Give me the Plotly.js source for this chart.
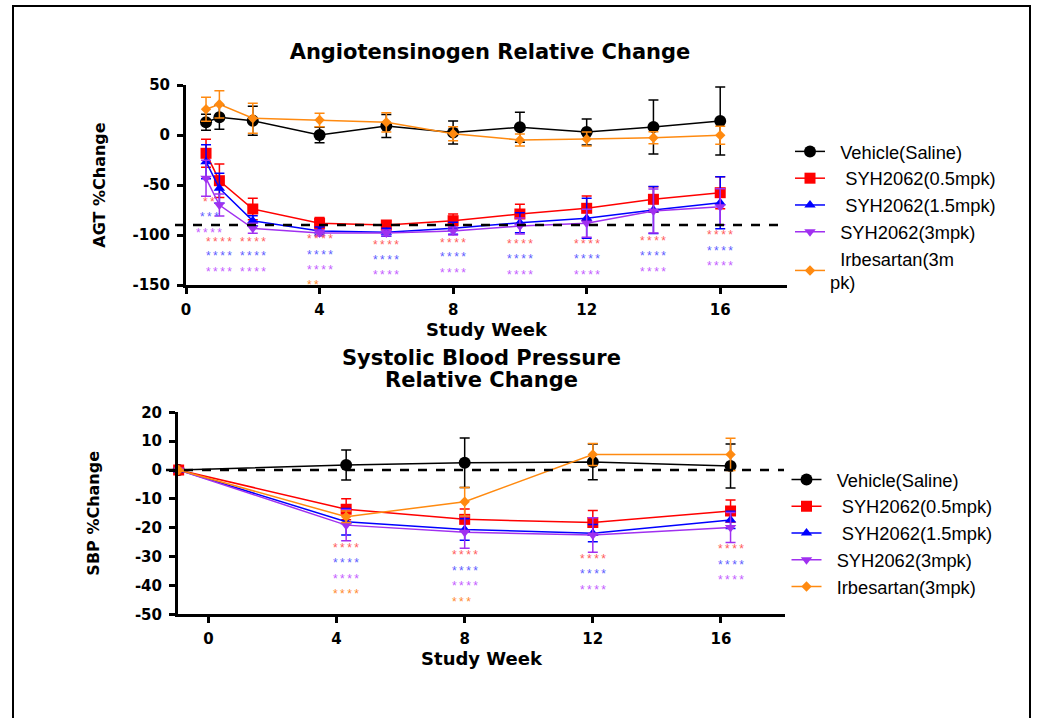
<!DOCTYPE html>
<html><head><meta charset="utf-8">
<script src="https://cdn.plot.ly/plotly-3.0.1.min.js"></script>
<style>html,body{margin:0;padding:0;background:#fff}#chart{width:1043px;height:718px}</style>
</head><body><div id="chart"></div>
<script>
// ---------- Angiotensinogen (AGT) % change ----------
const agtWeeks = [0.6, 1, 2, 4, 6, 8, 10, 12, 14, 16];
const agtVehicle = [12.7, 17.7, 14.3, 0, 9, 2.5, 7.7, 3, 8, 14];
const agtVehicleErr = [8, 12, 14.5, 7.7, 11.5, 11.5, 15, 13, 27, 34];
const agtLow = [-18.3, -45.7, -74, -88.3, -90, -85.7, -79, -73.3, -64.3, -57.7];
const agtLowErr = [14, 16.7, 10.7, 5.7, 4, 6.7, 9.7, 12.3, 12.6, 16];
const agtMid = [-26.7, -53.3, -85.7, -96, -97.3, -93.3, -87.7, -83.3, -75, -67.7];
const agtMidErr = [17, 15, 5, 4, 4, 6, 10, 20, 23.5, 26];
const agtHigh = [-43.3, -70, -93.3, -98, -98, -96, -91, -88.3, -76, -71.7];
const agtHighErr = [18, 11, 5, 3, 3, 4, 8, 14, 22, 18];
const agtIrb = [25.7, 30.7, 16.7, 15, 12.7, 1.3, -5, -4, -2.7, -0.3];
const agtIrbErr = [12, 13.6, 15, 6.7, 9.6, 7, 6, 7, 6, 9];
const agtRefLine = -90;

// significance labels (AGT)
const agtStarWeeks = [0.7, 1, 2, 4, 6, 8, 10, 12, 14, 16];
const agtStarsLow = ["**", "****", "****", "****", "****", "****", "****", "****", "****", "****"];
const agtStarsLowY = [-66, -106, -106, -103, -109, -107, -108, -108, -105, -99];
const agtStarsMid = ["***", "****", "****", "****", "****", "****", "****", "****", "****", "****"];
const agtStarsMidY = [-81, -120, -120, -119, -124, -121, -123, -123, -120, -115];
const agtStarsHigh = ["****", "****", "****", "****", "****", "****", "****", "****", "****", "****"];
const agtStarsHighY = [-97, -136, -136, -134, -139, -137, -139, -139, -136, -130];
const agtStarsIrbWeeks = [3.8];
const agtStarsIrb = ["**"];
const agtStarsIrbY = [-149];

// ---------- Systolic blood pressure % change ----------
const sbpWeeks = [-0.93, 4.3, 8, 12, 16.3];
const sbpVehicle = [0, 1.7, 2.5, 2.8, 1.4];
const sbpVehicleErr = [0, 5.2, 8.6, 6.2, 7.6];
const sbpLow = [0, -13.6, -17.1, -18.2, -14.2];
const sbpLowErr = [0, 3.6, 3.6, 4.2, 3.8];
const sbpMid = [0, -17.9, -20.6, -21.9, -17.3];
const sbpMidErr = [0, 4.6, 3.7, 3, 3];
const sbpHigh = [0, -19.1, -21.6, -22.5, -19.9];
const sbpHighErr = [0, 5.4, 5.5, 6, 5.2];
const sbpIrb = [0, -16.2, -11, 5.4, 5.4];
const sbpIrbErr = [0, 2, 4.9, 3.8, 5.6];
const sbpRefLine = 0;

const sbpStarWeeks = [4.3, 8, 12, 16.3];
const sbpStarsLow = ["****", "****", "****", "****"];
const sbpStarsLowY = [-26.6, -29.1, -30.4, -26.9];
const sbpStarsMid = ["****", "****", "****", "****"];
const sbpStarsMidY = [-32, -34.6, -35.8, -32.6];
const sbpStarsHigh = ["****", "****", "****", "****"];
const sbpStarsHighY = [-37.3, -39.8, -41.2, -37.8];
const sbpStarsIrbWeeks = [4.3, 7.9];
const sbpStarsIrb = ["****", "***"];
const sbpStarsIrbY = [-42.5, -45.4];

const tickWeeks = [0, 4, 8, 12, 16];
const agtTicks = [-150, -100, -50, 0, 50];
const sbpTicks = [-50, -40, -30, -20, -10, 0, 10, 20];

const namesTop = ["Vehicle(Saline)", "SYH2062(0.5mpk)", "SYH2062(1.5mpk)", "SYH2062(3mpk)", "Irbesartan(3m<br>pk)"];
const namesBottom = ["Vehicle(Saline)", "SYH2062(0.5mpk)", "SYH2062(1.5mpk)", "SYH2062(3mpk)", "Irbesartan(3mpk)"];

// ---------- styles ----------
const colors = ["#000000", "#ff0000", "#0000ff", "#a030f0", "#ff8a10"];
const starColors = ["#ff5c5c", "#5c5cff", "#c45cff", "#ff8a30"];
const symbols = ["circle", "square", "triangle-up", "triangle-down", "diamond"];
const sizes = [12, 11, 10, 10, 8];
const pad = ["\u00a0\u00a0", "\u00a0\u00a0\u00a0", "\u00a0\u00a0\u00a0", "\u00a0\u00a0", "\u00a0\u00a0"];

function series(x, ys, errs, names, xa, ya, leg) {
  return ys.map((y, i) => ({
    type: "scatter", mode: "lines+markers", x: x, y: y,
    xaxis: xa, yaxis: ya, legend: leg, name: pad[i] + names[i],
    legendgroup: leg + i, cliponaxis: false,
    line: {color: colors[i], width: 1.5},
    marker: {symbol: symbols[i], size: sizes[i], color: colors[i]},
    error_y: {type: "data", array: errs[i], visible: true, color: colors[i], thickness: 1.5, width: 5}
  }));
}

const traces = [].concat(
  series(agtWeeks, [agtVehicle, agtLow, agtMid, agtHigh, agtIrb],
         [agtVehicleErr, agtLowErr, agtMidErr, agtHighErr, agtIrbErr], namesTop, "x", "y", "legend"),
  series(sbpWeeks, [sbpVehicle, sbpLow, sbpMid, sbpHigh, sbpIrb],
         [sbpVehicleErr, sbpLowErr, sbpMidErr, sbpHighErr, sbpIrbErr], namesBottom, "x2", "y2", "legend2")
);

const W = 1043, H = 718;
const px = v => v / W, py = v => 1 - v / H;

const yDomTop = [1 - 285 / H, 1 - 85 / H], yRangeTop = [-150, 50];
const yDomBot = [1 - 614.3 / H, 1 - 412.3 / H], yRangeBot = [-50, 20];
// convert a data value on a y axis to paper fraction (so the reference line may run past the axis)
const toPaper = (dom, rng, v) => dom[0] + (v - rng[0]) / (rng[1] - rng[0]) * (dom[1] - dom[0]);

const annotations = [];
const thin = "\u2009";
function addStars(xs, texts, ys, color, xref, yref) {
  texts.forEach((t, i) => annotations.push({
    x: xs[i], y: ys[i], xref: xref, yref: yref, text: t.split("").join(thin), showarrow: false,
    xanchor: "center", yanchor: "middle", yshift: -1, borderpad: 0,
    font: {family: "Liberation Sans, Arial", size: 12, color: color}
  }));
}
addStars(agtStarWeeks, agtStarsLow, agtStarsLowY, starColors[0], "x", "y");
addStars(agtStarWeeks, agtStarsMid, agtStarsMidY, starColors[1], "x", "y");
addStars(agtStarWeeks, agtStarsHigh, agtStarsHighY, starColors[2], "x", "y");
addStars(agtStarsIrbWeeks, agtStarsIrb, agtStarsIrbY, starColors[3], "x", "y");
addStars(sbpStarWeeks, sbpStarsLow, sbpStarsLowY, starColors[0], "x2", "y2");
addStars(sbpStarWeeks, sbpStarsMid, sbpStarsMidY, starColors[1], "x2", "y2");
addStars(sbpStarWeeks, sbpStarsHigh, sbpStarsHighY, starColors[2], "x2", "y2");
addStars(sbpStarsIrbWeeks, sbpStarsIrb, sbpStarsIrbY, starColors[3], "x2", "y2");

const titleFont = {family: "DejaVu Sans", size: 21, color: "#000", weight: "bold"};
annotations.push({xref: "paper", yref: "paper", x: px(481), y: py(357.5), text: "Systolic Blood Pressure",
  showarrow: false, xanchor: "center", yanchor: "middle", font: titleFont});
annotations.push({xref: "paper", yref: "paper", x: px(481), y: py(379.5), text: "Relative Change",
  showarrow: false, xanchor: "center", yanchor: "middle", font: titleFont});

const tickFont = {family: "DejaVu Sans", size: 15, color: "#000", weight: "bold"};
const axTitleFont = {family: "DejaVu Sans", size: 18, color: "#000", weight: "bold"};
const axBase = {showline: true, linecolor: "#000", linewidth: 3, ticks: "outside", ticklen: 6,
  tickwidth: 3, tickcolor: "#000", showgrid: false, zeroline: false, tickfont: tickFont, fixedrange: true};

const legendFont = {family: "Liberation Sans, Arial", size: 18.3, color: "#000"};

const layout = {
  width: W, height: H, margin: {l: 0, r: 0, t: 0, b: 0},
  paper_bgcolor: "#fff", plot_bgcolor: "rgba(0,0,0,0)",
  title: {text: "Angiotensinogen Relative Change", font: titleFont, x: px(490), xanchor: "center",
          y: py(51.5), yanchor: "middle", yref: "paper"},
  xaxis: Object.assign({}, axBase, {domain: [px(186), px(787)], range: [0, 18], anchor: "y",
    tickvals: tickWeeks, ticktext: tickWeeks.map(String), ticklabelstandoff: 3,
    title: {text: "Study Week", font: axTitleFont, standoff: 4}}),
  yaxis: Object.assign({}, axBase, {domain: yDomTop, range: yRangeTop, anchor: "x",
    tickvals: agtTicks, ticktext: agtTicks.map(String), ticklabelstandoff: 4,
    title: {text: "AGT %Change", font: Object.assign({}, axTitleFont, {size: 16}), standoff: 23}}),
  xaxis2: Object.assign({}, axBase, {domain: [px(178), px(785)], range: [-0.95, 18], anchor: "y2",
    tickvals: tickWeeks, ticktext: tickWeeks.map(String), ticklabelstandoff: 3,
    title: {text: "Study Week", font: axTitleFont, standoff: 5}}),
  yaxis2: Object.assign({}, axBase, {domain: yDomBot, range: yRangeBot, anchor: "x2",
    tickvals: sbpTicks, ticktext: sbpTicks.map(String), ticklabelstandoff: 4,
    title: {text: "SBP %Change", font: Object.assign({}, axTitleFont, {size: 16}), standoff: 32}}),
  legend: {x: px(790), y: py(133), xanchor: "left", yanchor: "top", font: legendFont,
    bgcolor: "rgba(0,0,0,0)", traceorder: "normal", tracegroupgap: 0, itemwidth: 30, valign: "middle"},
  legend2: {x: px(786.5), y: py(461), xanchor: "left", yanchor: "top", font: legendFont,
    bgcolor: "rgba(0,0,0,0)", traceorder: "normal", tracegroupgap: 0, itemwidth: 30, valign: "middle"},
  shapes: [
    {type: "line", xref: "paper", yref: "paper", x0: px(175), x1: px(787),
     y0: toPaper(yDomTop, yRangeTop, agtRefLine), y1: toPaper(yDomTop, yRangeTop, agtRefLine),
     line: {color: "#000", width: 2.5, dash: "dash"}},
    {type: "line", xref: "paper", yref: "paper", x0: px(166), x1: px(784),
     y0: toPaper(yDomBot, yRangeBot, sbpRefLine), y1: toPaper(yDomBot, yRangeBot, sbpRefLine),
     line: {color: "#000", width: 2.5, dash: "dash"}},
    {type: "rect", xref: "paper", yref: "paper", x0: px(13), x1: px(1030), y0: py(6), y1: -0.05,
     line: {color: "#000", width: 2}, fillcolor: "rgba(0,0,0,0)", layer: "above"}
  ],
  annotations: annotations,
  showlegend: true
};

Plotly.newPlot("chart", traces, layout, {displayModeBar: false, staticPlot: true});
</script>
</body></html>
